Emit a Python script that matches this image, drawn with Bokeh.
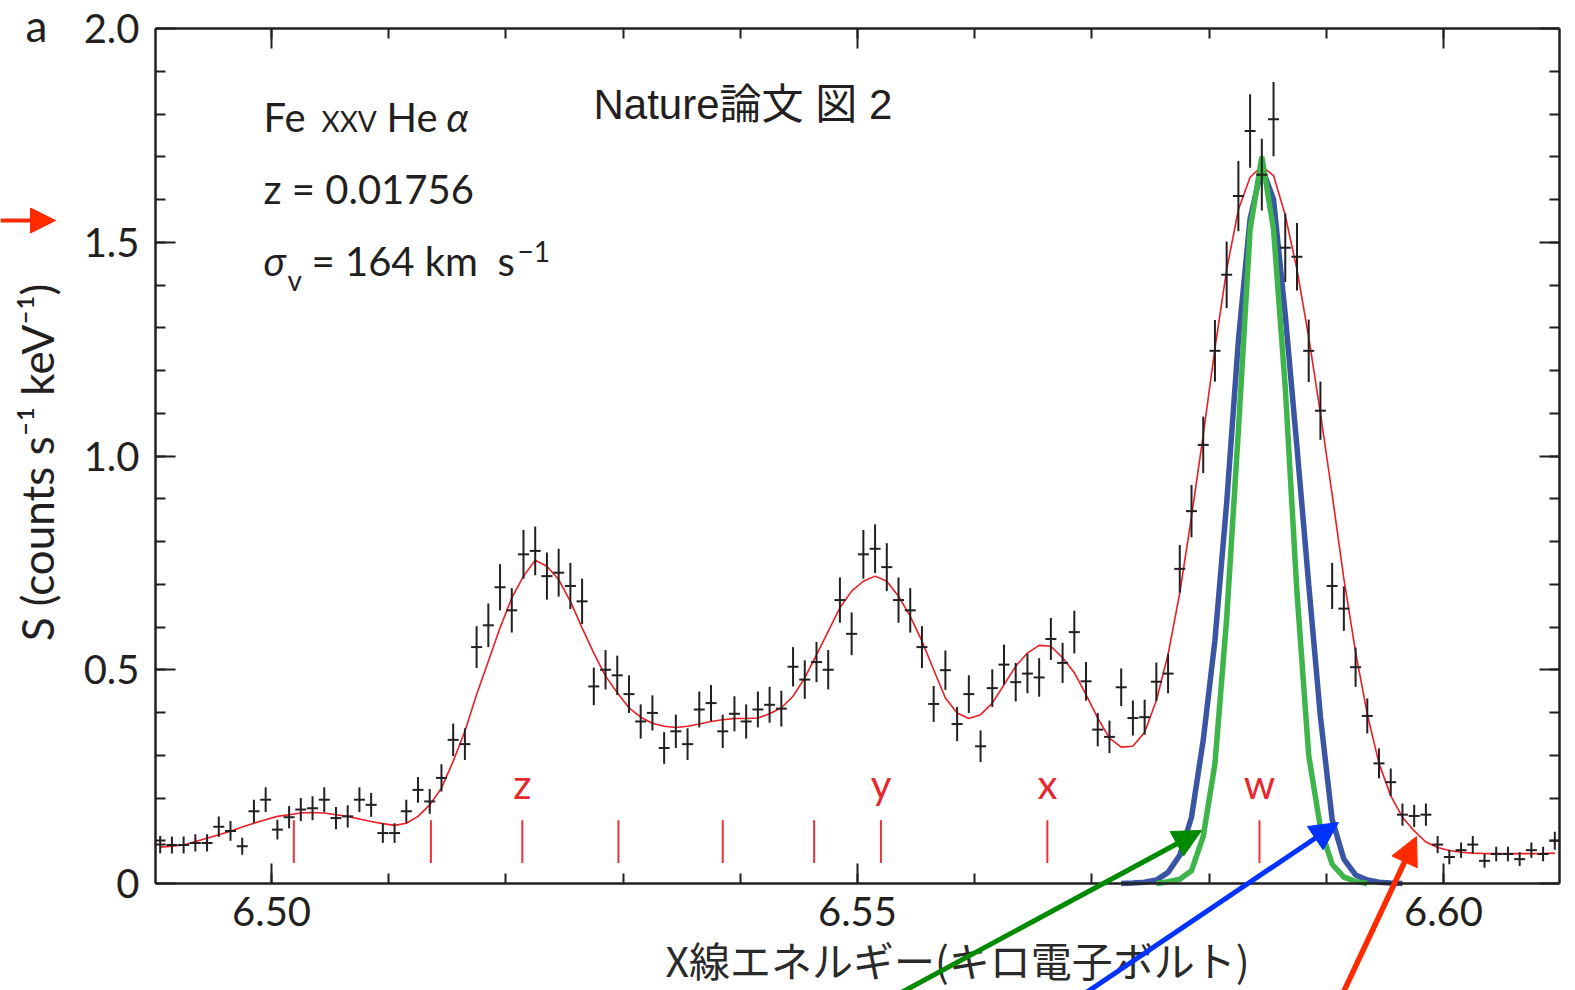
from math import pi
from bokeh.plotting import figure
from bokeh.models import (Range1d, FixedTicker, LinearAxis, CustomJSTickFormatter,
                          Label, Arrow, NormalHead, ColumnDataSource)
from bokeh.core.properties import value
from bokeh.embed import file_html
from bokeh.resources import INLINE

# ---------------- data ----------------
ENERGY_KEV = [
    6.4905, 6.4915, 6.4925, 6.4935, 6.4945, 6.4955, 6.4965, 6.4975, 6.4985, 6.4995,
    6.5005, 6.5015, 6.5025, 6.5035, 6.5045, 6.5055, 6.5065, 6.5075, 6.5085, 6.5095,
    6.5105, 6.5115, 6.5125, 6.5135, 6.5145, 6.5155, 6.5165, 6.5175, 6.5185, 6.5195,
    6.5205, 6.5215, 6.5225, 6.5235, 6.5245, 6.5255, 6.5265, 6.5275, 6.5285, 6.5295,
    6.5305, 6.5315, 6.5325, 6.5335, 6.5345, 6.5355, 6.5365, 6.5375, 6.5385, 6.5395,
    6.5405, 6.5415, 6.5425, 6.5435, 6.5445, 6.5455, 6.5465, 6.5475, 6.5485, 6.5495,
    6.5505, 6.5515, 6.5525, 6.5535, 6.5545, 6.5555, 6.5565, 6.5575, 6.5585, 6.5595,
    6.5605, 6.5615, 6.5625, 6.5635, 6.5645, 6.5655, 6.5665, 6.5675, 6.5685, 6.5695,
    6.5705, 6.5715, 6.5725, 6.5735, 6.5745, 6.5755, 6.5765, 6.5775, 6.5785, 6.5795,
    6.5805, 6.5815, 6.5825, 6.5835, 6.5845, 6.5855, 6.5865, 6.5875, 6.5885, 6.5895,
    6.5905, 6.5915, 6.5925, 6.5935, 6.5945, 6.5955, 6.5965, 6.5975, 6.5985, 6.5995,
    6.6005, 6.6015, 6.6025, 6.6035, 6.6045, 6.6055, 6.6065, 6.6075, 6.6085, 6.6095,
]

COUNTS = [
    0.091, 0.090, 0.090, 0.095, 0.095, 0.133, 0.123, 0.087, 0.169, 0.196,
    0.126, 0.155, 0.173, 0.176, 0.196, 0.153, 0.157, 0.196, 0.184, 0.118,
    0.118, 0.169, 0.219, 0.192, 0.247, 0.336, 0.326, 0.553, 0.604, 0.693,
    0.639, 0.770, 0.778, 0.719, 0.727, 0.696, 0.660, 0.461, 0.500, 0.487,
    0.443, 0.379, 0.399, 0.317, 0.356, 0.326, 0.407, 0.422, 0.356, 0.397,
    0.379, 0.407, 0.418, 0.409, 0.507, 0.477, 0.518, 0.500, 0.663, 0.584,
    0.770, 0.783, 0.740, 0.663, 0.639, 0.553, 0.420, 0.499, 0.373, 0.443,
    0.321, 0.457, 0.512, 0.471, 0.491, 0.482, 0.572, 0.516, 0.588, 0.473,
    0.360, 0.343, 0.459, 0.387, 0.389, 0.472, 0.491, 0.736, 0.871, 1.026,
    1.246, 1.424, 1.608, 1.760, 1.658, 1.788, 1.487, 1.466, 1.246, 1.106,
    0.696, 0.643, 0.506, 0.392, 0.281, 0.237, 0.161, 0.158, 0.161, 0.091,
    0.062, 0.078, 0.091, 0.053, 0.069, 0.069, 0.057, 0.078, 0.069, 0.100,
]

ERRORS = [
    0.020, 0.020, 0.020, 0.020, 0.020, 0.024, 0.023, 0.020, 0.027, 0.029,
    0.023, 0.026, 0.027, 0.028, 0.029, 0.026, 0.026, 0.029, 0.028, 0.023,
    0.023, 0.027, 0.030, 0.029, 0.032, 0.038, 0.037, 0.049, 0.051, 0.054,
    0.052, 0.057, 0.057, 0.055, 0.056, 0.054, 0.053, 0.044, 0.046, 0.046,
    0.044, 0.040, 0.041, 0.037, 0.039, 0.037, 0.042, 0.042, 0.039, 0.041,
    0.040, 0.042, 0.042, 0.042, 0.046, 0.045, 0.047, 0.046, 0.053, 0.050,
    0.057, 0.057, 0.056, 0.053, 0.052, 0.049, 0.042, 0.046, 0.040, 0.044,
    0.037, 0.044, 0.047, 0.045, 0.046, 0.045, 0.049, 0.047, 0.050, 0.045,
    0.039, 0.038, 0.044, 0.041, 0.041, 0.045, 0.046, 0.056, 0.061, 0.066,
    0.072, 0.078, 0.082, 0.086, 0.084, 0.087, 0.080, 0.079, 0.073, 0.068,
    0.054, 0.052, 0.046, 0.041, 0.035, 0.032, 0.026, 0.026, 0.026, 0.020,
    0.017, 0.018, 0.020, 0.016, 0.017, 0.017, 0.016, 0.018, 0.017, 0.021,
]

MODEL = [
    0.085, 0.087, 0.090, 0.098, 0.106, 0.114, 0.122, 0.132, 0.141, 0.149,
    0.157, 0.161, 0.165, 0.166, 0.165, 0.161, 0.157, 0.151, 0.145, 0.140,
    0.136, 0.141, 0.157, 0.184, 0.223, 0.286, 0.356, 0.442, 0.520, 0.598,
    0.668, 0.719, 0.756, 0.742, 0.711, 0.660, 0.598, 0.539, 0.485, 0.446,
    0.411, 0.389, 0.375, 0.368, 0.365, 0.368, 0.373, 0.379, 0.383, 0.386,
    0.386, 0.387, 0.397, 0.411, 0.438, 0.481, 0.535, 0.590, 0.645, 0.684,
    0.707, 0.719, 0.707, 0.672, 0.625, 0.567, 0.500, 0.434, 0.399, 0.386,
    0.395, 0.422, 0.465, 0.508, 0.539, 0.557, 0.555, 0.528, 0.493, 0.442,
    0.387, 0.340, 0.319, 0.321, 0.354, 0.428, 0.536, 0.680, 0.858, 1.049,
    1.252, 1.436, 1.576, 1.652, 1.678, 1.656, 1.563, 1.436, 1.278, 1.100,
    0.910, 0.713, 0.541, 0.396, 0.281, 0.205, 0.155, 0.123, 0.097, 0.084,
    0.077, 0.073, 0.071, 0.070, 0.070, 0.070, 0.070, 0.070, 0.070, 0.071,
]

# w-line profiles (blue, green), starting at bin index BLUE_START / GREEN_START
BLUE_START = 82
BLUE_PROFILE = [0.000, 0.001, 0.003, 0.008, 0.026, 0.066, 0.155, 0.335, 0.569, 0.890,
                1.270, 1.555, 1.675, 1.600, 1.330, 1.020, 0.700, 0.390, 0.150, 0.057,
                0.020, 0.008, 0.003, 0.001, 0.000]
GREEN_START = 85
GREEN_PROFILE = [0.000, 0.004, 0.010, 0.030, 0.110, 0.280, 0.620, 1.060, 1.530, 1.700,
                 1.530, 1.160, 0.680, 0.300, 0.130, 0.045, 0.015, 0.005, 0.000]

LINE_ENERGIES = [6.5019, 6.5136, 6.5214, 6.5296, 6.5385, 6.5463, 6.5520, 6.5662, 6.5843]
LINE_NAMES = ["", "", "z", "", "", "", "y", "x", "w"]

X_MAJOR_TICKS = [6.50, 6.55, 6.60]
X_MINOR_TICKS = [6.50, 6.51, 6.52, 6.53, 6.54, 6.55, 6.56, 6.57, 6.58, 6.59, 6.60]
Y_MAJOR_TICKS = [0.0, 0.5, 1.0, 1.5, 2.0]
Y_MINOR_TICKS = [0.1, 0.2, 0.3, 0.4, 0.5, 0.6, 0.7, 0.8, 0.9, 1.0,
                 1.1, 1.2, 1.3, 1.4, 1.5, 1.6, 1.7, 1.8, 1.9]

BOX_X = (6.4901, 6.6099)   # plotted energy range
BOX_Y = (0.0, 2.0)         # plotted S range

# ---------------- layout ----------------
W, H = 1575, 990
FL, FT, FW, FH = 155, 28, 1404, 855   # where the plot box sits on the page

def px2x(px):
    return BOX_X[0] + (px - FL) / FW * (BOX_X[1] - BOX_X[0])

def py2y(py):
    return BOX_Y[1] - (py - FT) / FH * (BOX_Y[1] - BOX_Y[0])

INK = "#231f20"
LATO = value("Lato")
SHIFT = 0.4  # baseline correction, in em

# the frame covers the page; the axes are pinned to the plot box
p = figure(width=W, height=H,
           x_range=Range1d(px2x(0), px2x(W)), y_range=Range1d(py2y(H), py2y(0)),
           x_axis_location=None, y_axis_location=None,
           output_backend="svg", toolbar_location=None,
           min_border=0, min_border_left=0, min_border_right=0,
           min_border_top=0, min_border_bottom=0)
p.grid.visible = False
p.outline_line_color = None
p.background_fill_color = "white"
p.border_fill_color = "white"

xt = FixedTicker(ticks=X_MAJOR_TICKS, minor_ticks=X_MINOR_TICKS)
yt = FixedTicker(ticks=Y_MAJOR_TICKS, minor_ticks=Y_MINOR_TICKS)

def make_axis(ticker, bounds, loc, labelled, standoff, code):
    ax = LinearAxis(ticker=ticker, bounds=bounds, fixed_location=loc)
    ax.axis_line_color = INK
    ax.axis_line_width = 2.5
    ax.major_tick_in = 20
    ax.major_tick_out = 0
    ax.minor_tick_in = 10
    ax.minor_tick_out = 0
    ax.major_tick_line_color = INK
    ax.minor_tick_line_color = INK
    ax.major_tick_line_width = 2
    ax.minor_tick_line_width = 2
    ax.major_label_text_font = "Lato"
    ax.major_label_text_font_size = "40px" if labelled else "0px"
    ax.major_label_text_color = INK
    ax.major_label_standoff = standoff
    ax.formatter = CustomJSTickFormatter(code=code if labelled else "return '';")
    return ax

p.add_layout(make_axis(xt, BOX_X, BOX_Y[0], True, 13, "return tick.toFixed(2);"), "below")
p.add_layout(make_axis(yt, BOX_Y, BOX_X[0], True, 16,
                       "return tick == 0 ? '0' : tick.toFixed(1);"), "left")
p.add_layout(make_axis(xt, BOX_X, BOX_Y[1], False, 0, ""), "above")
p.add_layout(make_axis(yt, BOX_Y, BOX_X[1], False, 0, ""), "right")

# ---------------- model and w-line profiles ----------------
p.line(ENERGY_KEV, MODEL, line_color="#ec1c24", line_width=1.6)
p.line(ENERGY_KEV[BLUE_START:BLUE_START + len(BLUE_PROFILE)], BLUE_PROFILE,
       line_color="#3a55a4", line_width=5.5)
p.line(ENERGY_KEV[GREEN_START:GREEN_START + len(GREEN_PROFILE)], GREEN_PROFILE,
       line_color="#3db54a", line_width=5.5)

# ---------------- data crosses ----------------
BIN_HALF = 0.00047
src = ColumnDataSource(dict(
    x=ENERGY_KEV, y=COUNTS,
    ylo=[c - e for c, e in zip(COUNTS, ERRORS)],
    yhi=[c + e for c, e in zip(COUNTS, ERRORS)],
    xlo=[e - BIN_HALF for e in ENERGY_KEV],
    xhi=[e + BIN_HALF for e in ENERGY_KEV],
))
p.segment(x0="x", y0="ylo", x1="x", y1="yhi", source=src, line_color=INK, line_width=2)
p.segment(x0="xlo", y0="y", x1="xhi", y1="y", source=src, line_color=INK, line_width=2)

# ---------------- line markers ----------------
p.segment(x0=LINE_ENERGIES, y0=[0.048] * len(LINE_ENERGIES),
          x1=LINE_ENERGIES, y1=[0.148] * len(LINE_ENERGIES),
          line_color="#e8333a", line_width=2)
named = [(e, n) for e, n in zip(LINE_ENERGIES, LINE_NAMES) if n]
p.text(x=[e for e, _ in named], y=[py2y(799 - SHIFT * 40)] * len(named),
       text=[n for _, n in named],
       text_font=LATO, text_font_size="40px", text_color="#e8262d",
       text_align="center", text_baseline="alphabetic")

# ---------------- annotations ----------------
def lab(text, px, py, size=40, font="Lato", style="normal", color=INK,
        align="left", angle=0.0):
    if angle:
        px = px - SHIFT * size
    else:
        py = py - SHIFT * size
    p.add_layout(Label(x=px2x(px), y=py2y(py), text=text, text_font=font,
                       text_font_size=f"{size}px", text_font_style=style, text_color=color,
                       text_align=align, text_baseline="alphabetic", angle=angle))

lab("a", 25, 42, size=44)
lab("Fe", 263, 132)
lab("XXV", 321, 132, size=28)
lab("He", 386, 132)
lab("α", 446, 132, style="italic")
lab("z = 0.01756", 263, 204)
lab("σ", 263, 276, style="italic")
lab("v", 287, 291, size=28)
lab("= 164 km", 311, 276)
lab("s", 497, 276)
lab("−1", 517, 262, size=28)
lab("Nature論文 図 2", 593, 121, size=42, font="Liberation Sans, Noto Sans CJK JP")
lab("S (counts s⁻¹ keV⁻¹)", 54, 462, size=44, align="center", angle=pi / 2)
lab("X線エネルギー(キロ電子ボルト)", 957, 975, size=41, font="Noto Sans CJK JP",
    align="center", color="#2a2a2a")

def arrow(x0, y0, x1, y1, color, width=5, size=28):
    p.add_layout(Arrow(end=NormalHead(size=size, fill_color=color, line_color=color),
                       x_start=px2x(x0), y_start=py2y(y0), x_end=px2x(x1), y_end=py2y(y1),
                       line_color=color, line_width=width))

arrow(0, 220, 55, 220, "#ff2a00", width=4, size=25)
arrow(886, 1000, 1201, 830, "#008a00")
arrow(1074, 1000, 1338, 822, "#0033ff")
arrow(1339, 1000, 1416, 836, "#ff2a00", width=5.5)

open("out.html", "w").write(file_html(p, INLINE))
